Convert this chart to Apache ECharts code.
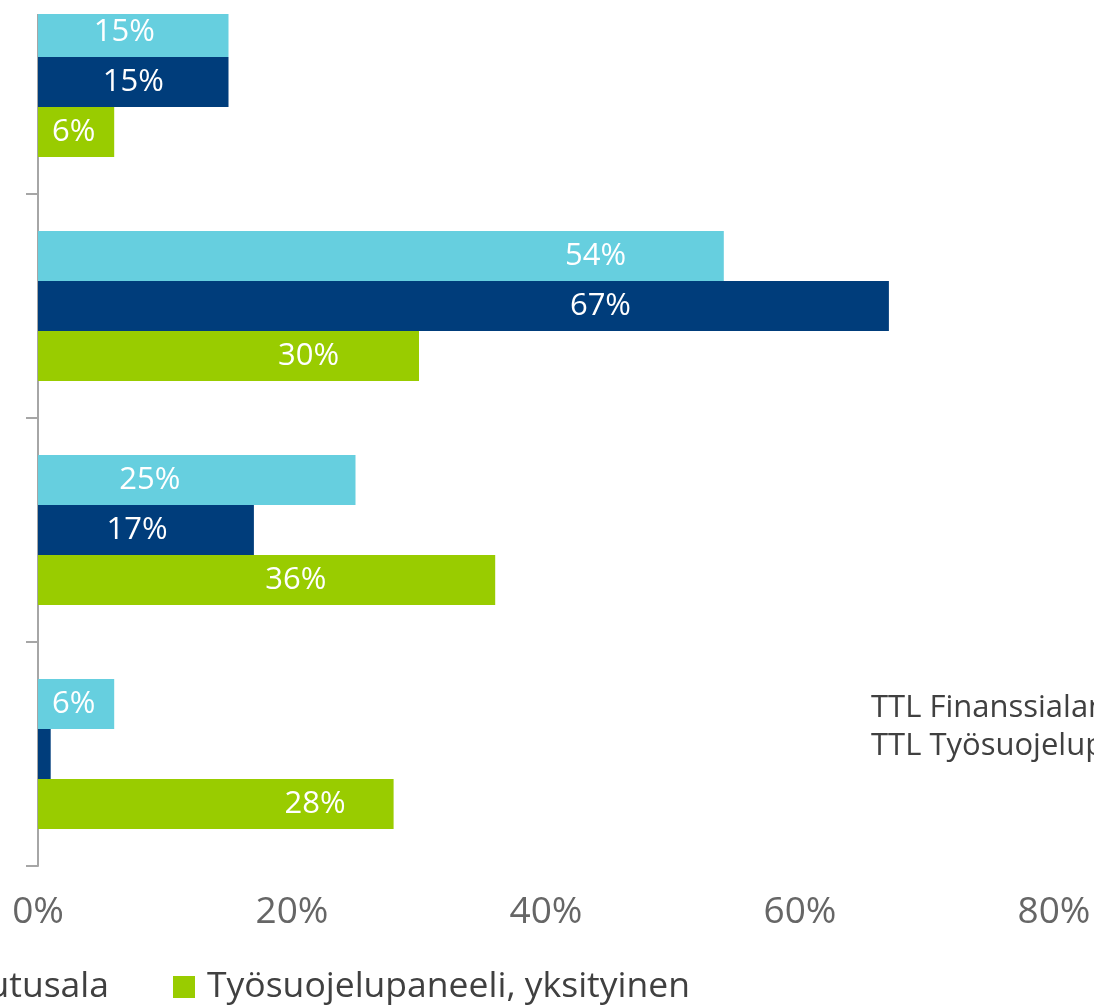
<!DOCTYPE html>
<html>
<head>
<meta charset="utf-8">
<script src="https://cdn.jsdelivr.net/npm/echarts@6/dist/echarts.min.js"></script>
<style>
  html, body { margin: 0; padding: 0; background: #fff; overflow: hidden; }
  /* the picture is a crop: the chart starts a little above the window */
  #chart { position: absolute; left: 0; top: -30px; width: 1094px; height: 1036px; }
</style>
</head>
<body>
<div id="chart"></div>
<script>
var categories = ['Kysymys 1', 'Kysymys 2', 'Kysymys 3', 'Kysymys 4'];
var seriesNames = ['Finanssiala, pankkiala', 'Finanssiala, vakuutusala', 'Työsuojelupaneeli, yksityinen'];
var pankki = [15, 54, 25, 6];
var vakuutus = [15, 67, 17, 1];
var paneeli = [6, 30, 36, 28];
// where the value text sits inside the bar, in the same units as the values
var pankkiLabelAt = [6.8, 43.9, 8.8, 2.8];
var vakuutusLabelAt = [7.5, 44.3, 7.8, null];
var paneeliLabelAt = [2.8, 21.3, 20.3, 21.8];
var xTicks = [0, 20, 40, 60, 80];
var colors = ['#66cfdf', '#003d7b', '#99cc00'];

var FONT = "'Open Sans', 'Noto Sans', sans-serif";

function makeData(values, labelAt){
  return values.map(function(v, i){
    var at = labelAt[i];
    if (at == null) {
      return { value: v, label: { show: false } };
    }
    return { value: v, label: { position: [(at / v * 100).toFixed(1) + '%', '50%'] } };
  });
}

function barSeries(idx, values, labelAt){
  return {
    type: 'bar',
    name: seriesNames[idx],
    barWidth: 50,
    barGap: '0%',
    itemStyle: { color: colors[idx] },
    label: {
      show: true,
      align: 'center',
      verticalAlign: 'middle',
      color: '#fff',
      fontFamily: FONT,
      fontSize: 31,
      formatter: '{c}%'
    },
    data: makeData(values, labelAt)
  };
}

var myChart = echarts.init(document.getElementById('chart'));
var option = {
  animation: false,
  grid: { left: 38, right: 40, top: 0, bottom: 140 },
  legend: [
    {
      data: [seriesNames[1]],
      right: 985,
      top: 999,
      padding: 0,
      icon: 'rect',
      itemWidth: 22,
      itemHeight: 22,
      textStyle: { color: '#404040', fontFamily: FONT, fontSize: 35.5 }
    },
    {
      data: [seriesNames[2]],
      left: 173,
      top: 999,
      padding: 0,
      icon: 'rect',
      itemWidth: 22,
      itemHeight: 22,
      textStyle: { color: '#404040', fontFamily: FONT, fontSize: 35.5, padding: [0, 0, 0, 7] }
    }
  ],
  xAxis: {
    type: 'value',
    min: xTicks[0],
    max: xTicks[xTicks.length - 1],
    interval: 20,
    axisLine: { show: false },
    axisTick: { show: false },
    splitLine: { show: false },
    axisLabel: {
      margin: 28,
      color: '#666',
      fontFamily: FONT,
      fontSize: 37,
      formatter: '{value}%'
    }
  },
  yAxis: {
    type: 'category',
    inverse: true,
    data: categories,
    axisLine: { show: true, lineStyle: { color: '#a6a6a6', width: 2 } },
    axisTick: { show: true, inside: false, alignWithLabel: false, length: 12, lineStyle: { color: '#a6a6a6', width: 2 } },
    axisLabel: { show: false }
  },
  series: [
    barSeries(0, pankki, pankkiLabelAt),
    barSeries(1, vakuutus, vakuutusLabelAt),
    barSeries(2, paneeli, paneeliLabelAt)
  ],
  graphic: [
    {
      type: 'rect',
      z: 100,
      shape: { x: 0, y: 0, width: 1094, height: 44 },
      style: { fill: '#fff' }
    },
    {
      type: 'text',
      z: 100,
      x: 871,
      y: 719,
      style: {
        text: 'TTL Finanssialan kysely\nTTL Työsuojelupaneeli',
        fill: '#404040',
        font: '31px ' + FONT,
        lineHeight: 38,
        verticalAlign: 'top'
      }
    }
  ]
};
myChart.setOption(option);
</script>
</body>
</html>
